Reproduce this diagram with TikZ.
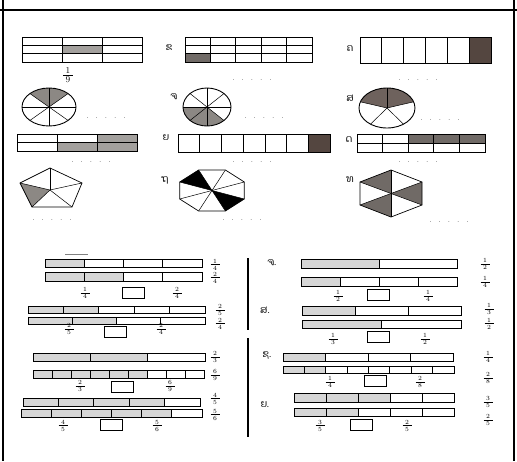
\documentclass[tikz,border=0pt]{standalone}
\usepackage{fontspec}
\newfontfamily\laofont[Script=Lao]{Dhyana}
\usetikzlibrary{calc}

\definecolor{midshade}{RGB}{140,136,132}
\definecolor{darkshade}{RGB}{84,70,64}
\definecolor{greyshade}{RGB}{112,106,102}
\definecolor{paleshade}{RGB}{214,214,214}

\tikzset{
  frameline/.style={line width=2pt},
  gridline/.style={line width=0.7pt},
  barline/.style={line width=0.8pt},
  barfill/.style={fill=paleshade},
  laolabel/.style={font=\laofont\fontsize{10}{12}\selectfont, inner sep=0pt},
  dotsnode/.style={font=\fontsize{7}{8}\selectfont, inner sep=0pt},
  fracdigit/.style={font=\fontsize{6.3}{7}\selectfont, inner sep=0pt},
  bigdigit/.style={font=\fontsize{9}{10}\selectfont, inner sep=0pt},
  fracrule/.style={line width=0.45pt},
  ansbox/.style={draw, line width=0.8pt, minimum width=22pt, minimum height=11pt, inner sep=0pt},
}

% a row of five dots for the answer blanks
\newcommand\dotrow{.\hspace{7pt}.\hspace{7pt}.\hspace{7pt}.\hspace{7pt}.}
% stacked fraction: name x y numerator denominator
\newcommand\frn[5]{%
  \node[fracdigit, anchor=south] (#1n) at (#2,#3-1.1) {#4};
  \draw[fracrule] (#2-4.5,#3) -- (#2+4.5,#3);
  \node[fracdigit, anchor=north] (#1d) at (#2,#3+1.2) {#5};
}

% fraction bar: x1 y1 x2 y2 columns shaded
\newcommand\fbar[6]{%
  \pgfmathsetmacro\cw{(#3-#1)/#5}%
  \fill[barfill] (#1,#2) rectangle ({#1+\cw*#6},#4);
  \pgfmathtruncatemacro\nm{#5-1}%
  \foreach \i in {1,...,\nm}{\draw[barline] ({#1+\cw*\i},#2) -- ({#1+\cw*\i},#4);}
  \draw[barline] (#1,#2) rectangle (#3,#4);
}
% grid of cells: x1 y1 x2 y2 columns rows
\newcommand\gbar[6]{%
  \pgfmathsetmacro\cw{(#3-#1)/#5}\pgfmathsetmacro\rh{(#4-#2)/#6}%
  \pgfmathtruncatemacro\nm{#5-1}\pgfmathtruncatemacro\nr{#6-1}%
  \foreach \i in {1,...,\nm}{\draw[gridline] ({#1+\cw*\i},#2) -- ({#1+\cw*\i},#4);}
  \ifnum\nr>0 \foreach \j in {1,...,\nr}{\draw[gridline] (#1,{#2+\rh*\j}) -- (#3,{#2+\rh*\j});}\fi
  \draw[gridline] (#1,#2) rectangle (#3,#4);
}
% pie outline: cx cy rx ry sectors first-angle
\newcommand\pieout[6]{%
  \foreach \k in {1,...,#5}{\draw[gridline, line width=0.5pt] (#1,#2) -- ++({#6+360/#5*\k}:#3 and #4);}
  \draw[gridline, line width=0.9pt] (#1,#2) ellipse[x radius=#3, y radius=#4];
}
% shaded sector: cx cy rx ry from to colour
\newcommand\sector[7]{%
  \fill[#7] (#1,#2) -- ++(#5:#3 and #4) arc[start angle=#5, end angle=#6, x radius=#3, y radius=#4] -- cycle;
}

\begin{document}
\begin{tikzpicture}[x=1pt,y=-1pt]
\useasboundingbox (0,0) rectangle (517,461);

% page frame
\draw[frameline] (3,0) -- (3,461);
\draw[frameline] (514,0) -- (514,461);
\draw[frameline] (0,10) -- (517,10);

% ---- row 1
\fill[midshade!80] (62,45.33) rectangle (102,53.67);
\gbar{22}{37}{142}{62}{3}{3}
\node[bigdigit, anchor=south] (fan) at (68,73.5) {1};
\draw[fracrule] (63,75) -- (73,75);
\node[bigdigit, anchor=north] (fad) at (68,76.5) {9};

\node[laolabel] (lb) at (169,48) {ຂ};
\fill[greyshade] (185,53.67) rectangle (210.4,62);
\gbar{185}{37}{312}{62}{5}{3}
\node[dotsnode] (db) at (252,80) {\dotrow};

\node[laolabel] (lc) at (350,49) {ຄ};
\fill[darkshade] (469.17,37) rectangle (491,63);
\gbar{360}{37}{491}{63}{6}{1}
\node[dotsnode] (dc) at (418,80) {\dotrow};

% ---- row 2
\sector{49}{107}{27}{19}{-45}{-135}{midshade}
\pieout{49}{107}{27}{19}{8}{0}
\node[dotsnode] (dd) at (106,118) {\dotrow};

\node[laolabel] (le) at (174,97) {ຈ};
\sector{207}{107}{24}{19}{-180}{-315}{midshade}
\pieout{207}{107}{24}{19}{8}{0}
\node[dotsnode] (de) at (264,118) {\dotrow};

\node[laolabel] (lf) at (350,98) {ສ};
\sector{387}{108}{28}{20}{-18}{-162}{darkshade!85}
\pieout{387}{108}{28}{20}{5}{54}
\node[dotsnode] (df) at (440,120) {\dotrow};

% ---- row 3
\fill[midshade!80] (57,142.5) rectangle (97,151);
\fill[midshade!80] (97,134) rectangle (137,151);
\gbar{17}{134}{137}{151}{3}{2}
\node[dotsnode] (dg) at (91,162) {\dotrow};

\node[laolabel] (lh) at (166,138) {ຍ};
\fill[darkshade] (308.29,134) rectangle (330,152);
\gbar{178}{134}{330}{152}{7}{1}
\node[dotsnode] (dh) at (252,162) {\dotrow};

\node[laolabel] (li) at (349,140) {ດ};
\fill[greyshade] (408.2,134) rectangle (485,143);
\gbar{357}{134}{485}{152}{5}{2}
\node[dotsnode] (di) at (418,162) {\dotrow};

% ---- row 4: pentagon
\fill[midshade] (50,190) -- (20,183) -- (32,207) -- cycle;
\draw[gridline] (50,168) -- (82,183) -- (72,207) -- (32,207) -- (20,183) -- cycle;
\foreach \p in {(50,168),(82,183),(72,207),(32,207),(20,183)}
  \draw[gridline, line width=0.5pt] (50,190) -- \p;
\node[dotsnode] (dj) at (52,220) {\dotrow};

% octagon
\node[laolabel] (lk) at (165,180) {ຖ};
\fill[black] (212,190.5) -- (198.6,170) -- (179.7,182) -- cycle;
\fill[black] (212,190.5) -- (225.4,211) -- (244.3,199) -- cycle;
\draw[gridline] (244.3,182) -- (225.4,170) -- (198.6,170) -- (179.7,182) -- (179.7,199) -- (198.6,211) -- (225.4,211) -- (244.3,199) -- cycle;
\foreach \p in {(244.3,182),(225.4,170),(198.6,170),(179.7,182),(179.7,199),(198.6,211),(225.4,211),(244.3,199)}
  \draw[gridline, line width=0.5pt] (212,190.5) -- \p;
\node[dotsnode] (dk) at (242,220) {\dotrow};

% hexagon
\node[laolabel] (ll) at (350,180) {ທ};
\fill[greyshade] (391,193.5) -- (391,170) -- (360,182) -- cycle;
\fill[greyshade] (391,193.5) -- (422,182) -- (422,205) -- cycle;
\fill[greyshade] (391,193.5) -- (360,205) -- (391,217) -- cycle;
\draw[gridline] (391,170) -- (422,182) -- (422,205) -- (391,217) -- (360,205) -- (360,182) -- cycle;
\foreach \p in {(391,170),(422,182),(422,205),(391,217),(360,205),(360,182)}
  \draw[gridline, line width=0.5pt] (391,193.5) -- \p;
\node[dotsnode] (dl) at (449,222) {\dotrow};

% ---- comparison exercises
\draw[line width=2pt] (248,258) -- (248,330);
\draw[line width=2pt] (248,338) -- (248,437);

% left column
\draw[line width=0.4pt, gray] (65,254) -- (88,254);
\fbar{45}{259}{202}{267}{4}{1}
\frn{q1a}{215}{264.5}{1}{4}
\fbar{45}{272}{202}{281}{4}{2}
\frn{q1b}{215}{277.5}{2}{4}
\frn{q1l}{85}{293}{1}{4}
\node[ansbox] (q1box) at (133,292.5) {};
\frn{q1r}{177}{293}{2}{4}

\fbar{28}{306}{205}{313}{5}{2}
\frn{q2a}{220}{310}{2}{5}
\fbar{28}{317}{205}{324}{4}{2}
\frn{q2b}{220}{323.5}{2}{4}
\frn{q2l}{69}{329}{2}{5}
\node[ansbox] (q2box) at (115.5,331.5) {};
\frn{q2r}{161}{329}{2}{4}

\fbar{33}{353}{205}{361}{3}{2}
\frn{q3a}{215}{357}{2}{3}
\fbar{33}{370}{204}{378}{9}{6}
\frn{q3b}{215}{375}{6}{9}
\frn{q3l}{80}{386}{2}{3}
\node[ansbox] (q3box) at (122.5,386.5) {};
\frn{q3r}{170}{386}{6}{9}

\fbar{23}{398}{200}{406}{5}{4}
\frn{q4a}{215}{398.5}{4}{5}
\fbar{21}{409}{202}{417}{6}{5}
\frn{q4b}{215}{414.5}{5}{6}
\frn{q4l}{63}{425.5}{4}{5}
\node[ansbox] (q4box) at (111.5,425) {};
\frn{q4r}{157}{425.5}{5}{6}

% right column
\node[laolabel] (r1lab) at (272,263) {ຈ.};
\fbar{301}{259}{457}{268}{2}{1}
\frn{r1a}{485}{264}{1}{2}
\fbar{301}{277}{457}{286}{4}{1}
\frn{r1b}{485}{282}{1}{4}
\frn{r1l}{338}{296}{1}{2}
\node[ansbox] (r1box) at (378.5,295) {};
\frn{r1r}{428}{296}{1}{4}

\node[laolabel] (r2lab) at (265,310) {ສ.};
\fbar{302}{306}{461}{315}{3}{1}
\frn{r2a}{489}{309}{1}{3}
\fbar{302}{320}{461}{328}{2}{1}
\frn{r2b}{489}{323.5}{1}{2}
\frn{r2l}{333}{339}{1}{3}
\node[ansbox] (r2box) at (378,337) {};
\frn{r2r}{425}{339}{1}{2}

\node[laolabel] (r3lab) at (267,355) {ຊ.};
\fbar{283}{353}{453}{361}{4}{1}
\frn{r3a}{488}{357}{1}{4}
\fbar{283}{366}{454}{373}{8}{2}
\frn{r3b}{488}{378}{2}{8}
\frn{r3l}{330}{382}{1}{4}
\node[ansbox] (r3box) at (375.5,381) {};
\frn{r3r}{420}{382}{2}{8}

\node[laolabel] (r4lab) at (265,405) {ຍ.};
\fbar{294}{393}{454}{402}{5}{3}
\frn{r4a}{488}{402}{3}{5}
\fbar{294}{408}{454}{416}{5}{2}
\frn{r4b}{488}{420}{2}{5}
\frn{r4l}{320}{425.5}{3}{5}
\node[ansbox] (r4box) at (361.5,425) {};
\frn{r4r}{407}{425.5}{2}{5}
\end{tikzpicture}
\end{document}
